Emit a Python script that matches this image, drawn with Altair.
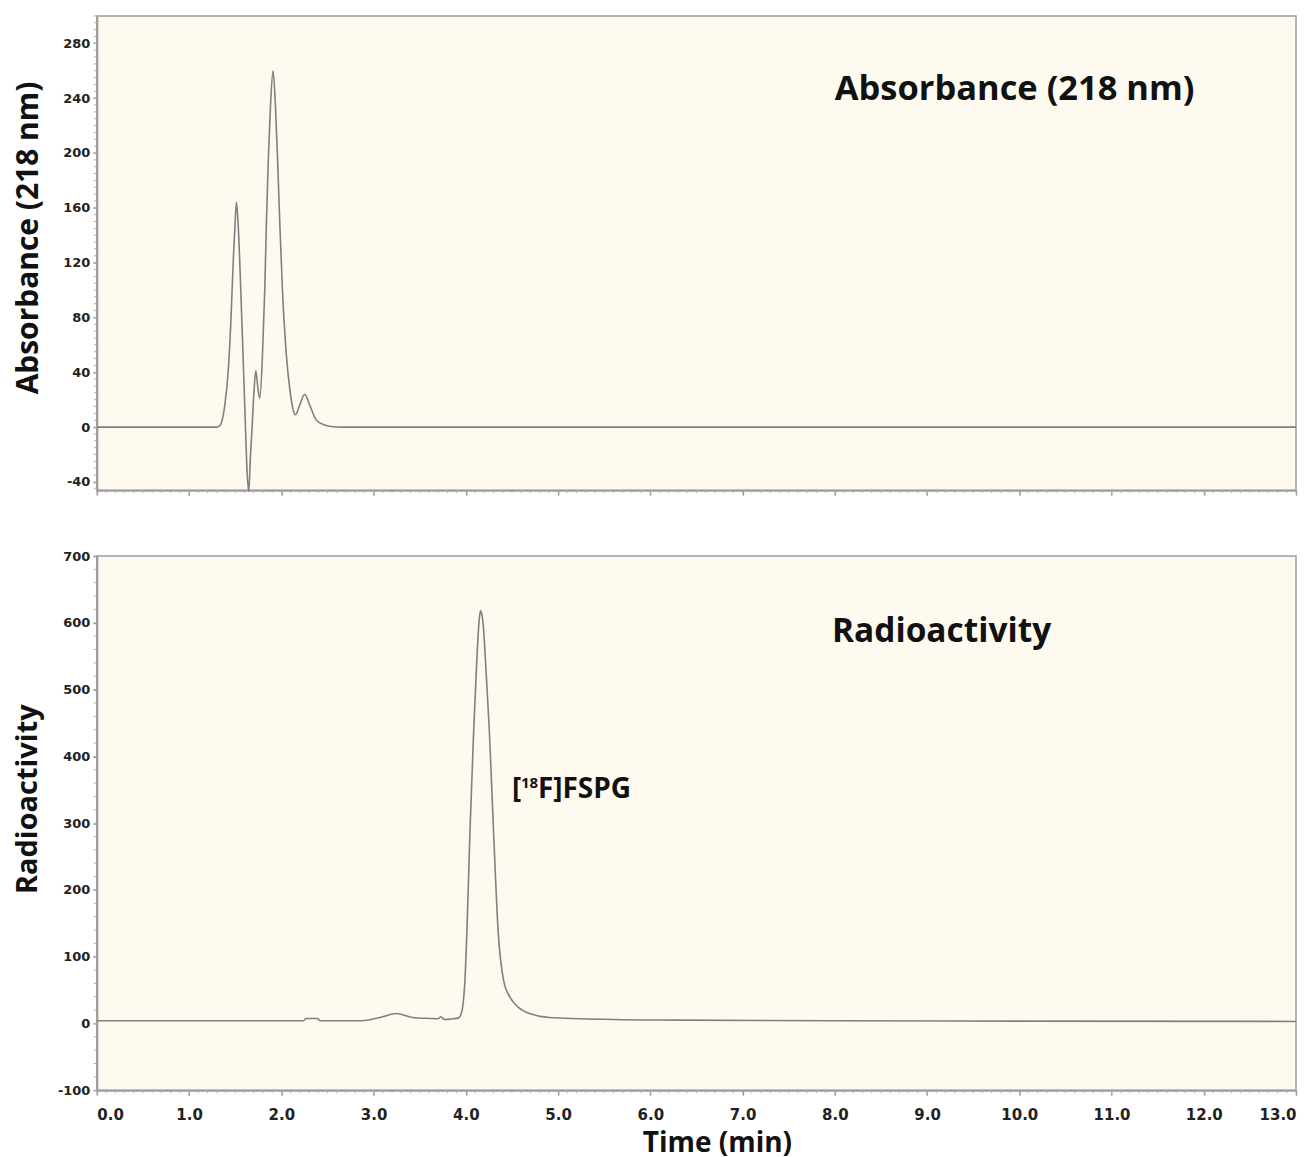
import altair as alt
import pandas as pd

# ---- data ----
abs_time = [0.0, 1.30, 1.333, 1.387, 1.423, 1.452, 1.481, 1.499, 1.513, 1.531, 1.560, 1.585,
            1.611, 1.629, 1.647, 1.665, 1.683, 1.705, 1.723, 1.745, 1.766, 1.795, 1.820, 1.838,
            1.860, 1.882, 1.910, 1.936, 1.958, 1.983, 2.012, 2.055, 2.091, 2.120, 2.153, 2.199,
            2.253, 2.308, 2.380, 2.470, 2.56, 2.65, 13.0]
abs_value = [0, 0, 1, 16, 40, 76, 125, 149, 164, 149, 100, 52,
             0, -33, -47, -21, 0, 28, 41, 29, 21, 52, 100, 149,
             198, 234, 260, 234, 198, 149, 100, 52, 28, 15, 9, 16,
             24, 16, 5, 1.5, 0.3, 0, 0]

rad_time = [0.0, 2.24, 2.27, 2.39, 2.42, 2.87, 3.07, 3.25, 3.42, 3.61, 3.70, 3.73, 3.77, 3.86,
            3.92, 3.942, 3.965, 3.990, 4.012, 4.045, 4.085, 4.117, 4.141, 4.152, 4.162, 4.173,
            4.188, 4.215, 4.255, 4.300, 4.350, 4.410, 4.480, 4.570, 4.710, 4.908, 5.6, 6.3,
            8.0, 13.0]
rad_value = [4, 4, 7.5, 7.5, 4, 4, 9, 15, 9, 7.5, 7, 10, 6, 7,
             8, 12, 24, 64, 139, 289, 438, 538, 598, 613, 618, 613,
             598, 538, 438, 289, 139, 64, 39, 24, 14, 9, 6, 5,
             4, 3]

x_ticks = list(range(0, 14))
abs_ticks = [-40, 0, 40, 80, 120, 160, 200, 240, 280]
rad_ticks = [-100, 0, 100, 200, 300, 400, 500, 600, 700]

abs_label = ["Absorbance (218 nm)"]
rad_label = ["Radioactivity"]
peak_label = ["[", "18", "F]FSPG"]

# minor tick positions (axis decoration)
x_minor = [i / 10 for i in range(0, 131)]
abs_minor = [-45 + 5 * i for i in range(0, 70)]
rad_minor = [-100 + 20 * i for i in range(0, 41)]

# ---- styling ----
LINE = "#808080"
BG = "#FEFAF0"
AX = "#9c9c9c"
MINOR = "#b0b0b0"
TFONT = "Open Sans"
W = 1201
H_TOP = 475
H_BOT = 535

abs_df = pd.DataFrame({"t": abs_time, "v": abs_value})
rad_df = pd.DataFrame({"t": rad_time, "v": rad_value})

xscale = alt.Scale(domain=[0, 13], nice=False, zero=False)
hyphen = "'' + datum.value"

x_top = alt.X("t:Q", scale=xscale,
              axis=alt.Axis(values=x_ticks, labels=False, title=None, tickSize=5))
x_bot = alt.X("t:Q", scale=xscale,
              axis=alt.Axis(values=x_ticks, format=".1f", title="Time (min)", tickSize=5,
                            labelPadding=12, titlePadding=7, titleX=621,
                            labelFontSize=15, titleFontSize=28))
y_top = alt.Y("v:Q", scale=alt.Scale(domain=[-46, 300], nice=False, zero=False),
              axis=alt.Axis(values=abs_ticks, labelExpr=hyphen, title="Absorbance (218 nm)",
                            tickSize=4, labelPadding=3, minExtent=40, titleX=-68, titleY=222,
                            titleBaseline="middle"))
y_bot = alt.Y("v:Q", scale=alt.Scale(domain=[-100, 700], nice=False, zero=False),
              axis=alt.Axis(values=rad_ticks, labelExpr=hyphen, title="Radioactivity",
                            tickSize=4, labelPadding=3, minExtent=40, titleX=-69, titleY=243,
                            titleBaseline="middle", titleFontSize=29))


def minor_layers(xe, ye, ymin, h):
    xm = alt.Chart(pd.DataFrame({"t": x_minor})).mark_rule(color=MINOR, strokeWidth=1).encode(
        x=xe, y=alt.value(h), y2=alt.value(h + 3))
    ym = alt.Chart(pd.DataFrame({"v": ymin})).mark_rule(color=MINOR, strokeWidth=1).encode(
        y=ye, x=alt.value(-3), x2=alt.value(0))
    return [xm, ym]


top_line = alt.Chart(abs_df).mark_line(color=LINE, strokeWidth=1.6, interpolate="monotone").encode(
    x=x_top, y=y_top)
top_text = alt.Chart(pd.DataFrame({"t": [8.0], "v": [246], "label": abs_label})).mark_text(
    align="left", baseline="middle", font=TFONT, fontSize=34.5, fontWeight="bold", color="#111"
).encode(x=x_top, y=y_top, text="label:N")
top = alt.layer(top_line, top_text, *minor_layers(x_top, y_top, abs_minor, H_TOP)).properties(
    width=W, height=H_TOP)

bot_line = alt.Chart(rad_df).mark_line(color=LINE, strokeWidth=1.6, interpolate="monotone").encode(
    x=x_bot, y=y_bot)
bot_text = alt.Chart(pd.DataFrame({"t": [7.97], "v": [586], "label": rad_label})).mark_text(
    align="left", baseline="middle", font=TFONT, fontSize=33.5, fontWeight="bold", color="#111"
).encode(x=x_bot, y=y_bot, text="label:N")

pk = pd.DataFrame({"t": [4.5], "v": [350]})
pk1 = alt.Chart(pk).mark_text(align="left", baseline="middle", font=TFONT, fontSize=28,
                              fontWeight="bold", color="#111", text=peak_label[0]).encode(x=x_bot, y=y_bot)
pk2 = alt.Chart(pk).mark_text(align="left", baseline="middle", font=TFONT, fontSize=15,
                              fontWeight="bold", color="#111", text=peak_label[1], dx=9, dy=-7
                              ).encode(x=x_bot, y=y_bot)
pk3 = alt.Chart(pk).mark_text(align="left", baseline="middle", font=TFONT, fontSize=28,
                              fontWeight="bold", color="#111", text=peak_label[2], dx=26
                              ).encode(x=x_bot, y=y_bot)

bot = alt.layer(bot_line, bot_text, pk1, pk2, pk3, *minor_layers(x_bot, y_bot, rad_minor, H_BOT)
                ).properties(width=W, height=H_BOT)

chart = alt.vconcat(top, bot, spacing=52).configure_view(
    fill=BG, stroke=AX, strokeWidth=1.5
).configure_axis(
    grid=False, domainColor=AX, domainWidth=2, tickColor=AX, tickWidth=1.5,
    labelFont="DejaVu Sans", labelFontWeight="bold", labelFontSize=13, labelColor="#222",
    titleFont=TFONT, titleFontWeight="bold", titleFontSize=30, titleColor="#111"
)

chart.save("out.html", embed_options={"renderer": "svg", "actions": False})
